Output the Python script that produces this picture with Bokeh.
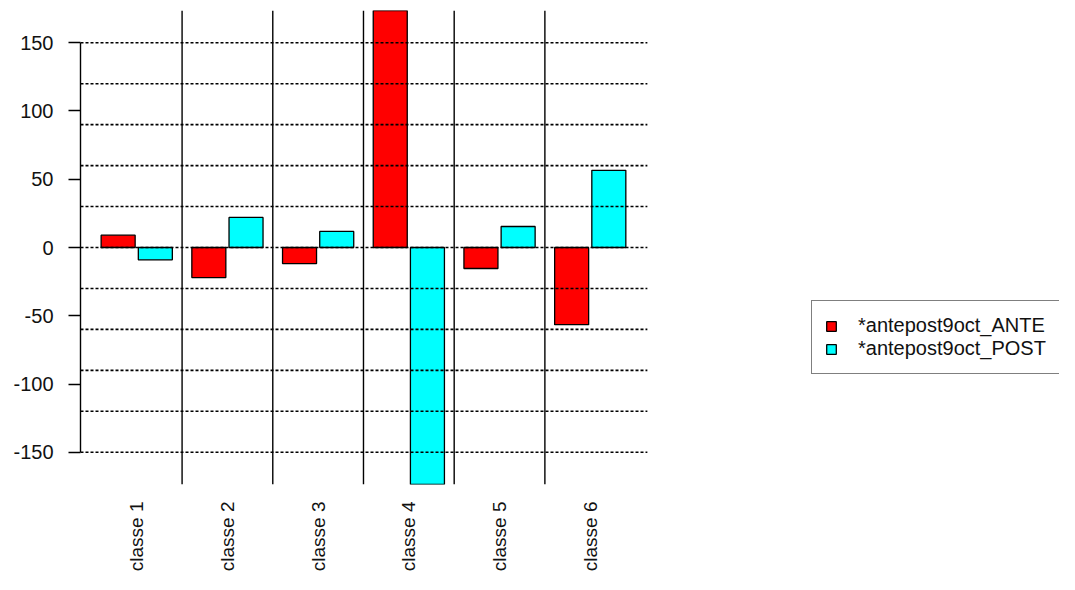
import math
import numpy as np
from bokeh.plotting import figure
from bokeh.models import Range1d, SingleIntervalTicker, FixedTicker, Span, PrintfTickFormatter
from bokeh.embed import file_html
from bokeh.resources import INLINE

categories = ["classe 1", "classe 2", "classe 3", "classe 4", "classe 5", "classe 6"]
ante = [9.0, -22.0, -11.8, 173.6, -15.4, -56.5]
post = [-9.0, 22.0, 11.8, -173.6, 15.4, 56.5]
series_names = ["*antepost9oct_ANTE", "*antepost9oct_POST"]
series_colors = ["#FF0000", "#00FFFF"]
y_ticks_step = 50
grid_step = 30
grid_limit = 150

FONT = "Liberation Sans"
n = len(categories)
allvals = ante + post
idx = np.arange(n)

W, H = 1059, 574
LEFT, TOP = 80, 10
FRAME_W = W - LEFT
PX_PER_UNIT = 90.7
x_start = -0.62
x_plot_end = n - 1 + 0.63
x_end = x_start + FRAME_W / PX_PER_UNIT

p = figure(width=W, height=H, output_backend="svg", toolbar_location=None,
           x_range=Range1d(x_start, x_end),
           y_range=Range1d(min(allvals), max(allvals)),
           min_border_left=LEFT, min_border_right=0, min_border_top=TOP,
           min_border_bottom=88)
p.outline_line_color = None
p.background_fill_color = "white"
p.border_fill_color = "white"

off = 0.205
w = 0.375
for vals, xs, name, col in [(ante, idx - off, series_names[0], series_colors[0]),
                            (post, idx + off, series_names[1], series_colors[1])]:
    p.vbar(x=xs, top=vals, bottom=0, width=w, fill_color=col,
           line_color="black", line_width=1.3, legend_label=name)

# separators between classes
for i in range(n - 1):
    p.add_layout(Span(location=i + 0.5, dimension="height",
                      line_color="black", line_width=1.4))

# dotted horizontal grid (drawn over the bars, limited to the bar area)
gy = np.arange(-grid_limit, grid_limit + 1, grid_step)
p.segment(x0=[x_start] * len(gy), x1=[x_plot_end] * len(gy), y0=gy, y1=gy,
          line_color="black", line_dash="3 2", line_width=1.6)

p.xgrid.visible = False
p.ygrid.visible = False

# y axis
ya = p.yaxis[0]
ya.ticker = SingleIntervalTicker(interval=y_ticks_step)
ya.formatter = PrintfTickFormatter(format="%d")
ya.bounds = (-150, 150)
ya.axis_line_color = "black"
ya.axis_line_width = 1.4
ya.major_tick_line_width = 1.4
ya.major_tick_out = 12
ya.major_tick_in = 0
ya.minor_tick_line_color = None
ya.minor_tick_out = 0
ya.major_label_standoff = 15
ya.axis_label_standoff = 0
ya.major_label_text_font = FONT
ya.major_label_text_font_size = "20px"
ya.major_label_text_color = "#111111"

# x axis
xa = p.xaxis[0]
xa.ticker = FixedTicker(ticks=list(range(n)))
xa.major_label_overrides = {i: c for i, c in enumerate(categories)}
xa.axis_line_color = None
xa.major_tick_line_color = None
xa.minor_tick_line_color = None
xa.major_tick_out = 0
xa.major_tick_in = 0
xa.minor_tick_out = 0
xa.axis_label_standoff = 0
xa.major_label_orientation = math.pi / 2
xa.major_label_standoff = 17
xa.major_label_text_font = FONT
xa.major_label_text_font_size = "19px"
xa.major_label_text_color = "#111111"

# legend
lg = p.legend[0]
lg.location = (731, 110)
lg.border_line_color = "black"
lg.border_line_width = 1.4
lg.background_fill_color = "white"
lg.background_fill_alpha = 1
lg.label_text_font = FONT
lg.label_text_font_size = "20px"
lg.label_text_color = "#111111"
lg.glyph_width = 12
lg.glyph_height = 12
lg.label_height = 20
lg.label_standoff = 21
lg.spacing = 0
lg.padding = 13
lg.margin = 0

open("out.html", "w").write(file_html(p, INLINE))
